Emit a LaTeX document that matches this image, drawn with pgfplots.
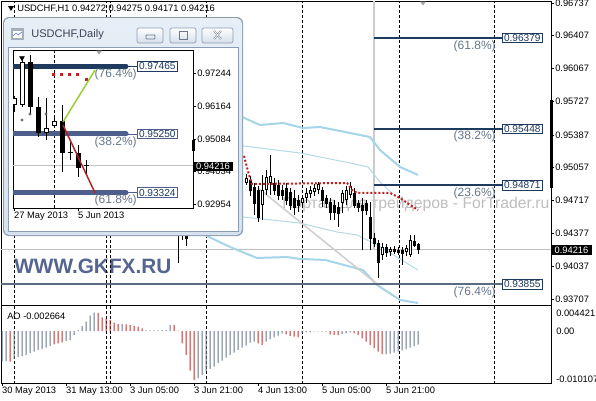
\documentclass[border=0pt]{standalone}
\usepackage{pgfplots}
\pgfplotsset{compat=1.18}
\usepackage{pgfplotstable}
\usepackage{fontspec}
\setmainfont{Liberation Sans}
\newcommand{\f}[1]{\fontsize{#1}{#1}\selectfont}
\definecolor{navy}{HTML}{1E3A5F}
\definecolor{slate}{HTML}{4E5F8E}
\definecolor{fibgrey}{HTML}{5B6B80}
\definecolor{pctc}{HTML}{66778A}
\definecolor{lblue}{HTML}{A5D5E8}
\definecolor{lbluethin}{HTML}{B3DAEA}
\definecolor{aogrey}{HTML}{66778A}
\definecolor{aored}{HTML}{B83232}
\definecolor{mared}{HTML}{C41E1E}
\definecolor{winbg}{HTML}{D6E2EE}
\definecolor{wintop}{HTML}{E6EEF6}
\definecolor{winborder}{HTML}{8C9CB0}
\definecolor{btnbottom}{HTML}{D4DEEA}
\definecolor{btnicon}{HTML}{6A7A8C}
\definecolor{gkfx}{HTML}{55658F}
\definecolor{wmgrey}{HTML}{BEBEBE}
\definecolor{pricegrey}{HTML}{C0C0C0}
\definecolor{vgrey}{HTML}{CBCBCB}
\definecolor{diaggrey}{HTML}{D0D0D0}
\definecolor{titlec}{HTML}{3A4656}
\definecolor{fgreen}{HTML}{9ACD32}
\definecolor{fred}{HTML}{B22222}

\pgfplotsset{
  candle/.style n args={2}{draw=none, mark=none, forget plot,
    error bars/.cd, y dir=minus, y explicit, error mark=none,
    error bar style={draw=#1, solid, line width=#2}},
}

% main H1 candles (prices): x high low bodytop bodybottom
\pgfplotstableread{
x h l top bot
178 0.94700 0.94075 0.94546 0.94382
186 0.94566 0.94249 0.94444 0.94331
250 0.94966 0.94761 0.94925 0.94822
254 0.94894 0.94566 0.94853 0.94689
258 0.94863 0.94495 0.94822 0.94546
274 0.94945 0.94771 0.94894 0.94822
278 0.94925 0.94720 0.94874 0.94771
282 0.94874 0.94720 0.94822 0.94771
286 0.94894 0.94669 0.94843 0.94720
290 0.94843 0.94618 0.94802 0.94669
294 0.94822 0.94566 0.94740 0.94648
298 0.94771 0.94597 0.94720 0.94669
322 0.94853 0.94648 0.94822 0.94720
326 0.94771 0.94638 0.94740 0.94689
330 0.94740 0.94515 0.94700 0.94597
334 0.94720 0.94515 0.94669 0.94597
338 0.94700 0.94444 0.94648 0.94587
354 0.94843 0.94638 0.94792 0.94669
358 0.94720 0.94597 0.94689 0.94648
362 0.94740 0.94208 0.94669 0.94618
366 0.94720 0.94566 0.94689 0.94618
370 0.94700 0.94208 0.94546 0.94331
374 0.94382 0.94239 0.94331 0.94280
378 0.94310 0.93921 0.94280 0.94085
386 0.94269 0.94136 0.94239 0.94188
394 0.94249 0.94167 0.94218 0.94198
398 0.94239 0.94157 0.94208 0.94188
402 0.94239 0.94054 0.94208 0.94177
414 0.94362 0.94239 0.94300 0.94259
418 0.94275 0.94171 0.94272 0.94216
}\mainB
\pgfplotstableread{
x h l top bot
182 0.94597 0.94310 0.94444 0.94362
246 0.94986 0.94874 0.94945 0.94894
262 0.94976 0.94515 0.94822 0.94669
266 0.95027 0.94771 0.94956 0.94822
270 0.95181 0.94771 0.94966 0.94894
302 0.94771 0.94659 0.94740 0.94689
306 0.94843 0.94689 0.94792 0.94740
310 0.94863 0.94740 0.94822 0.94781
314 0.94884 0.94761 0.94843 0.94802
318 0.94904 0.94781 0.94884 0.94822
342 0.94822 0.94587 0.94792 0.94689
346 0.94863 0.94669 0.94822 0.94720
350 0.94904 0.94740 0.94863 0.94771
382 0.94280 0.94106 0.94239 0.94157
390 0.94239 0.94147 0.94218 0.94188
406 0.94259 0.94147 0.94229 0.94188
410 0.94362 0.94136 0.94310 0.94157
}\mainW
% daily candles of the inset
\pgfplotstableread{
x h l top bot
30 0.97833 0.95870 0.97604 0.96131
38 0.96459 0.95150 0.96131 0.95280
62 0.96197 0.94004 0.95673 0.94626
70 0.95051 0.94397 0.94659 0.94626
78 0.94888 0.93840 0.94626 0.94135
86 0.94397 0.93906 0.94232 0.94200
}\inB
\pgfplotstableread{
x h l top bot
14 0.96491 0.95968 0.96426 0.96197
22 0.97768 0.96131 0.97604 0.96197
46 0.96426 0.95051 0.95444 0.95280
54 0.95771 0.95444 0.95673 0.95510
}\inW

\begin{document}
\begin{tikzpicture}
\useasboundingbox (0,0) rectangle (447pt,-300pt);
\clip (0,0) rectangle (447pt,-300pt);
\fill[white] (0,0) rectangle (447pt,-300pt);

%================ MAIN H1 CHART ================
\begin{axis}[
  at={(0.75pt,-228.75pt)}, anchor=south west,
  scale only axis, width=412.5pt, height=228pt,
  xmin=1, xmax=551, ymin=0.936445, ymax=0.967575,
  clip mode=individual,
  axis line style={line width=0.75pt},
  xtick=\empty,
  ytick={0.93707,0.94037,0.94377,0.94717,0.95057,0.95387,0.95727,0.96067,0.96407,0.96737},
  yticklabels={0.93707,0.94037,0.94377,0.94717,0.95057,0.95387,0.95727,0.96067,0.96407,0.96737},
  ytick pos=right, yticklabel pos=right,
  tick align=outside, major tick length=2.25pt,
  tick style={line width=0.5pt, black},
  yticklabel style={font=\f{7}, anchor=west, inner sep=0.75pt},
  scaled y ticks=false,
]
% watermarks
\node[anchor=base west, font=\f{11.8}, text=wmgrey, inner sep=0] at (axis cs:282,0.94628) {Портал для трейдеров - ForTrader.ru};
\node[anchor=base west, font=\bfseries\f{15.6}, text=gkfx, inner sep=0] at (axis cs:14,0.93972) {WWW.GKFX.RU};
% period separators
\addplot[black, line width=0.6pt, dash pattern=on 2.25pt off 1.5pt, unbounded coords=jump] coordinates {
(14,0.93)(14,0.97)(14,nan)(106,0.93)(106,0.97)(106,nan)(110,0.93)(110,0.97)(110,nan)
(206,0.93)(206,0.97)(206,nan)(302,0.93)(302,0.97)(302,nan)(399,0.93)(399,0.97)(399,nan)(494,0.93)(494,0.97)};
% bid line
\addplot[pricegrey, line width=0.6pt] coordinates {(1,0.94216)(551,0.94216)};
% vertical line object
\addplot[vgrey, line width=1.5pt] coordinates {(374,0.9680)(374,0.94208)};
% envelopes / bands
\addplot[lblue, line width=1.5pt] coordinates {(236,0.95590)(242,0.95570)(260,0.95488)(283,0.95508)(303,0.95457)(320,0.95467)(350,0.95406)(370,0.95365)(380,0.95232)(400,0.95058)(418,0.94976)};
\addplot[lbluethin, line width=0.75pt] coordinates {(236,0.95283)(300,0.95201)(350,0.95099)(368,0.95058)(380,0.94904)(392,0.94792)};
\addplot[lbluethin, line width=0.75pt] coordinates {(200,0.94597)(243,0.94546)(300,0.94484)(337,0.94392)(357,0.94362)(377,0.94259)(418,0.94003)};
\addplot[lblue, line width=1.5pt] coordinates {(200,0.94392)(207,0.94351)(230,0.94239)(257,0.94126)(287,0.94136)(300,0.94116)(325,0.94106)(363,0.94003)(377,0.93850)(400,0.93696)(418,0.93665)};
\addplot[diaggrey, line width=1.2pt] coordinates {(258,0.94843)(378,0.93850)};
% Fibonacci levels
\addplot[navy, line width=1.5pt] coordinates {(374,0.96379)(502,0.96379)};
\addplot[navy, line width=1.5pt] coordinates {(374,0.95448)(502,0.95448)};
\addplot[navy, line width=1.5pt] coordinates {(374,0.94871)(502,0.94871)};
\addplot[fibgrey, line width=1.5pt] coordinates {(1,0.93855)(502,0.93855)};
% candles: wicks, bodies
\addplot[candle={black}{0.75pt}] table[x=x, y=h, y error minus expr=\thisrow{h}-\thisrow{l}] {\mainB};
\addplot[candle={black}{0.75pt}] table[x=x, y=h, y error minus expr=\thisrow{h}-\thisrow{l}] {\mainW};
\addplot[candle={black}{2.25pt}] table[x=x, y=top, y error minus expr=\thisrow{top}-\thisrow{bot}+0.0001] {\mainB};
\addplot[candle={black}{2.25pt}] table[x=x, y=top, y error minus expr=\thisrow{top}-\thisrow{bot}] {\mainW};
\addplot[candle={white}{0.75pt}] table[x=x, y expr=\thisrow{top}-0.0001024, y error minus expr=\thisrow{top}-\thisrow{bot}-0.0002048] {\mainW};
% moving average (red dots)
\addplot[mared, line width=1.5pt, dash pattern=on 1.5pt off 1.5pt] coordinates {(244,0.95171)(249,0.94976)(252,0.94884)(347,0.94894)(352,0.94822)(357,0.94792)(390,0.94792)(400,0.94741)(410,0.94669)(418,0.94618)};
% Fibonacci labels
\foreach \v/\p in {0.96379/61.8,0.95448/38.2,0.94871/23.6,0.93855/76.4}{
  \edef\tmp{\noexpand\node[anchor=west, draw=navy, fill=white, text=navy, font=\noexpand\f{7.6}, inner xsep=1.2pt, inner ysep=1pt, line width=0.6pt] at (axis cs:502,\v) {\v};
  \noexpand\node[anchor=east, text=pctc, font=\noexpand\f{9}, inner sep=0pt] at (axis cs:496,\v-0.00082) {(\p\noexpand\%)};}
  \tmp
}
\end{axis}

%================ AO WINDOW ================
\begin{axis}[
  at={(0.75pt,-287.25pt)}, anchor=south west,
  scale only axis, width=412.5pt, height=58.5pt,
  xmin=1, xmax=551, ymin=-0.010107, ymax=0.005054,
  clip mode=individual,
  axis line style={line width=0.75pt},
  ytick=\empty,
  xtick={2,66,130,194,258,322,386},
  xticklabels={30 May 2013,31 May 13:00,3 Jun 05:00,3 Jun 21:00,4 Jun 13:00,5 Jun 05:00,5 Jun 21:00},
  xtick pos=bottom, tick align=outside, major tick length=2.25pt,
  tick style={line width=0.5pt, black},
  xticklabel style={font=\f{7}, anchor=north west, inner sep=0.75pt, xshift=-0.8pt},
]
\addplot[black, line width=0.6pt, dash pattern=on 2.25pt off 1.5pt, unbounded coords=jump] coordinates {
(14,-0.02)(14,0.01)(14,nan)(106,-0.02)(106,0.01)(106,nan)(110,-0.02)(110,0.01)(110,nan)
(206,-0.02)(206,0.01)(206,nan)(302,-0.02)(302,0.01)(302,nan)(399,-0.02)(399,0.01)(399,nan)(494,-0.02)(494,0.01)};
\addplot[ybar, bar width=0.75pt, bar shift=0pt, fill=aogrey, draw=none] coordinates {
(2,-0.00593)(6,-0.00581)(14,-0.00548)(18,-0.00510)(22,-0.00484)(26,-0.00464)(30,-0.00432)(34,-0.00400)
(38,-0.00368)(42,-0.00348)(46,-0.00323)(50,-0.00290)(66,-0.00194)(70,-0.00174)(74,-0.00077)(78,0.00019)
(82,0.00097)(86,0.00181)(90,0.00297)(94,0.00355)(122,0.00137)(146,0.00012)(150,0.00010)(154,0.00014)
(158,0.00011)(162,0.00015)(166,0.00020)(170,0.00116)(198,-0.00916)(202,-0.00851)(206,-0.00787)(210,-0.00735)
(214,-0.00690)(218,-0.00626)(222,-0.00574)(226,-0.00516)(230,-0.00464)(234,-0.00419)(238,-0.00368)(242,-0.00323)
(246,-0.00284)(250,-0.00226)(254,-0.00206)(266,-0.00206)(270,-0.00161)(274,-0.00123)(278,-0.00090)(282,-0.00045)
(302,-0.00045)(306,-0.00026)(310,-0.00026)(314,-0.00008)(318,-0.00006)(322,-0.00008)(326,-0.00010)(342,-0.00058)
(346,-0.00045)(350,-0.00026)(386,-0.00448)(390,-0.00440)(394,-0.00420)(398,-0.00400)(402,-0.00377)(406,-0.00352)
(410,-0.00325)(414,-0.00296)(418,-0.002664)};
\addplot[ybar, bar width=0.75pt, bar shift=0pt, fill=aored, draw=none] coordinates {
(10,-0.00593)(54,-0.00258)(58,-0.00239)(62,-0.00219)(98,0.00350)(102,0.00265)(106,0.00245)(110,0.00213)
(114,0.00161)(118,0.00135)(126,0.00129)(130,0.00116)(134,0.00097)(138,0.00084)(142,0.00052)(174,0.00120)
(178,0.00005)(182,-0.00239)(186,-0.00464)(190,-0.00768)(194,-0.00948)(258,-0.00239)(262,-0.00271)(286,-0.00065)
(290,-0.00097)(294,-0.00110)(298,-0.00123)(330,-0.00065)(334,-0.00077)(338,-0.00080)(354,-0.00045)(358,-0.00077)
(362,-0.00142)(366,-0.00206)(370,-0.00271)(374,-0.00335)(378,-0.00400)(382,-0.00450)};
\end{axis}

%================ decorations of the main window ================
\begin{scope}[x=0.75pt,y=-0.75pt]
\fill (8,6) -- (14,6) -- (11,11) -- cycle;
\node[anchor=west, font=\f{7}, inner sep=0] at (17,9) {USDCHF,H1 0.94272 0.94275 0.94171 0.94216};
\fill[gray!70] (420,1.5) -- (426,1.5) -- (423,5.5) -- cycle;
\fill (550,100) rectangle (553,188);
\node[anchor=west, fill=black, text=white, font=\f{7}, inner xsep=2.5pt, inner ysep=1pt] at (551,250) {0.94216};
\node[anchor=west, font=\f{7}, inner sep=0] at (7,316) {AO -0.002664};
\node[anchor=west, font=\f{7}, inner sep=0] at (556,313) {0.004421};
\node[anchor=west, font=\f{7}, inner sep=0] at (556,331) {0.00};
\node[anchor=west, font=\f{7}, inner sep=0] at (556,379) {-0.010107};
\end{scope}

%================ inset window chrome ================
\begin{scope}[x=0.75pt,y=-0.75pt]
\fill[winborder, rounded corners=4.5pt] (3,17) rectangle (243,236);
\shade[top color=wintop, bottom color=winbg, rounded corners=4pt] (4,18) rectangle (242,235);
\fill[white] (8,47) rectangle (238,231);
\draw[winborder, line width=0.5pt] (8,47) rectangle (238,231);
\foreach \a/\b in {137/163,170/196,202/233}{
  \shade[top color=white, bottom color=btnbottom, rounded corners=1.5pt] (\a,28) rectangle (\b,43);
  \draw[winborder, rounded corners=1.5pt, line width=0.5pt] (\a,28) rectangle (\b,43);}
\draw[btnicon, rounded corners=0.6pt, line width=0.6pt] (146,35) rectangle (155,39);
\draw[btnicon, line width=0.6pt] (179,31) rectangle (187,39);
\draw[btnicon, line width=1.2pt] (179,31.5) -- (187,31.5);
\draw[btnicon, line width=1.3pt] (214,31) -- (221,39) (214,39) -- (221,31);
\draw[white, line width=0.5pt] (214,31) -- (221,39) (214,39) -- (221,31);
\fill[btnicon!60] (11,28) rectangle (24,40);
\fill[white] (13,31) rectangle (22,38);
\draw[lblue!60!blue, line width=0.5pt] (13,36) -- (16,33) -- (18,35) -- (22,32);
\node[anchor=west, font=\f{8.3}, text=titlec, inner sep=0] at (31,35) {USDCHF,Daily};
\end{scope}

%================ inset Daily chart ================
\begin{axis}[
  at={(9.75pt,-156pt)}, anchor=south west,
  scale only axis, width=135pt, height=118.5pt,
  xmin=13, xmax=193, ymin=0.92826, ymax=0.97997,
  clip mode=individual,
  axis line style={line width=0.75pt},
  ytick={0.92954,0.94034,0.95084,0.96164,0.97244},
  yticklabels={0.92954,0.94034,0.95084,0.96164,0.97244},
  ytick pos=right, yticklabel pos=right,
  xtick={14,78}, xticklabels={27 May 2013,5 Jun 2013}, xtick pos=bottom,
  tick align=outside, major tick length=2.25pt,
  tick style={line width=0.5pt, black},
  yticklabel style={font=\f{7}, anchor=west, inner sep=0.75pt},
  xticklabel style={font=\f{7}, anchor=north west, inner sep=0.75pt, xshift=-0.8pt},
  scaled y ticks=false,
]
\addplot[pricegrey, line width=0.6pt] coordinates {(13,0.94216)(193,0.94216)};
\addplot[black, line width=0.6pt, dash pattern=on 2.25pt off 1.5pt] coordinates {(54,0.92)(54,0.99)};
\addplot[navy, line width=3.75pt, line cap=round] coordinates {(8,0.97465)(126,0.97465)};
\addplot[slate, line width=3.75pt, line cap=round] coordinates {(8,0.95250)(126,0.95250)};
\addplot[slate, line width=3.75pt, line cap=round] coordinates {(8,0.93324)(126,0.93324)};
\addplot[navy, line width=0.6pt] coordinates {(126,0.97465)(137,0.97465)};
\addplot[slate, line width=0.6pt] coordinates {(126,0.95250)(137,0.95250)};
\addplot[slate, line width=0.6pt] coordinates {(126,0.93324)(137,0.93324)};
\addplot[candle={black}{0.75pt}] table[x=x, y=h, y error minus expr=\thisrow{h}-\thisrow{l}] {\inB};
\addplot[candle={black}{0.75pt}] table[x=x, y=h, y error minus expr=\thisrow{h}-\thisrow{l}] {\inW};
\addplot[candle={black}{3.75pt}] table[x=x, y=top, y error minus expr=\thisrow{top}-\thisrow{bot}] {\inB};
\addplot[candle={black}{3.75pt}] table[x=x, y=top, y error minus expr=\thisrow{top}-\thisrow{bot}] {\inW};
\addplot[candle={white}{2.25pt}] table[x=x, y expr=\thisrow{top}-0.00033, y error minus expr=\thisrow{top}-\thisrow{bot}-0.00066] {\inW};
\addplot[only marks, mark=*, mark size=0.9pt, gray!80!black] coordinates {(22,0.95706)(30,0.95902)(46,0.95902)};
\addplot[only marks, mark=square*, mark size=0.8pt, mared] coordinates {(53,0.97211)(61,0.97211)(69,0.97211)(77,0.97211)(86,0.97048)};
\addplot[only marks, mark=triangle*, mark size=2pt, mark options={rotate=180}, black] coordinates {(22,0.97735)};
\addplot[fgreen, line width=1.1pt] coordinates {(63,0.95640)(95,0.97342)};
\addplot[fred, line width=1.1pt] coordinates {(63,0.95542)(95,0.93324)};
\foreach \v/\p/\c in {0.97465/76.4/navy,0.95250/38.2/slate,0.93324/61.8/slate}{
  \edef\tmp{\noexpand\node[anchor=west, draw=\c, fill=white, text=navy, font=\noexpand\f{7.6}, inner xsep=1.2pt, inner ysep=1pt, line width=0.6pt] at (axis cs:137,\v) {\v};
  \noexpand\node[anchor=east, text=pctc, font=\noexpand\f{9}, inner sep=0pt] at (axis cs:137,\v-0.00262) {(\p\noexpand\%)};}
  \tmp
}
\end{axis}

\begin{scope}[x=0.75pt,y=-0.75pt]
\fill (192,140) rectangle (195,151);
\fill[gray!70] (96,50.5) -- (102,50.5) -- (99,54.5) -- cycle;
\node[anchor=west, fill=black, text=white, font=\f{7}, inner xsep=2.2pt, inner ysep=1pt] at (193,166.5) {0.94216};
\end{scope}
\end{tikzpicture}
\end{document}
